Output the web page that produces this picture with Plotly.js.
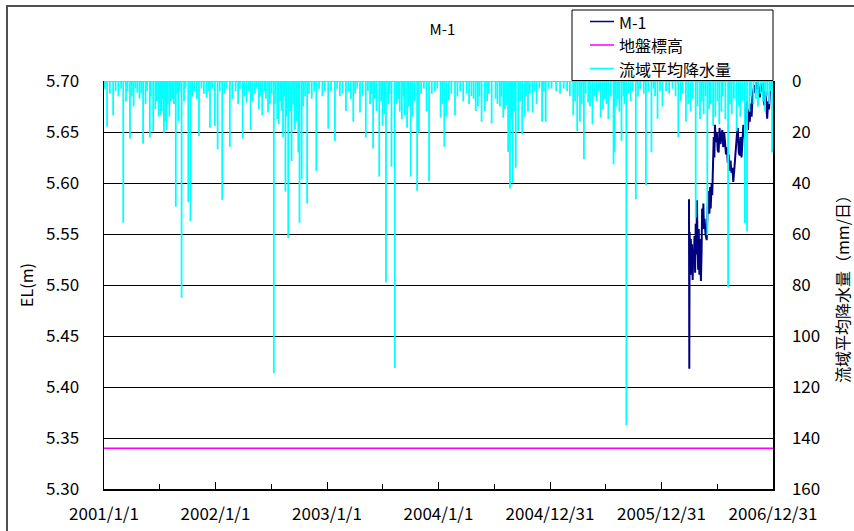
<!DOCTYPE html>
<html>
<head>
<meta charset="utf-8">
<script src="https://cdn.plot.ly/plotly-3.0.1.min.js"></script>
<style>
html,body{margin:0;padding:0;background:#fff;}
#wrap{position:relative;width:854px;height:531px;overflow:hidden;}
#chart{width:854px;height:531px;}
#frameL{position:absolute;left:6px;top:5px;width:2px;height:540px;background:#505050;}
#frameT{position:absolute;left:6px;top:5px;width:860px;height:2px;background:#505050;}
</style>
</head>
<body>
<div id="wrap"><div id="chart"></div><div id="frameL"></div><div id="frameT"></div></div>
<script>
// ---- axis ticks ----
const xRange = ['2001-01-01', '2006-12-31'];
const xTickDates = ['2001-01-01','2002-01-01','2003-01-01','2004-01-01','2004-12-31','2005-12-31','2006-12-31'];
const xTickLabels = ['2001/1/1','2002/1/1','2003/1/1','2004/1/1','2004/12/31','2005/12/31','2006/12/31'];
const levelTicks = [5.30,5.35,5.40,5.45,5.50,5.55,5.60,5.65,5.70];
const rainTicks = [0,20,40,60,80,100,120,140,160];

// ---- series names / colours ----
const seriesNames = ['M-1', '地盤標高', '流域平均降水量'];
const seriesColors = ['#000080', '#FF00FF', '#00FFFF'];

// ---- 地盤標高 (ground elevation) ----
const groundDates = ['2001-01-01', '2006-12-31'];
const groundLevel = [5.34, 5.34];

// ---- M-1 water level (m) ----
const m1Dates = [
'2006-03-31','2006-04-01','2006-04-02','2006-04-04','2006-04-06','2006-04-08','2006-04-10','2006-04-12','2006-04-14','2006-04-16',
'2006-04-18','2006-04-20','2006-04-22','2006-04-24','2006-04-26','2006-04-28','2006-04-30','2006-05-02','2006-05-04','2006-05-06',
'2006-05-09','2006-05-11','2006-05-13','2006-05-15','2006-05-17','2006-05-19','2006-05-21','2006-05-24','2006-05-28','2006-05-31',
'2006-06-03','2006-06-06','2006-06-08','2006-06-10','2006-06-13','2006-06-15','2006-06-17','2006-06-20','2006-06-22','2006-06-24',
'2006-06-27','2006-06-30','2006-07-03','2006-07-06','2006-07-09','2006-07-12','2006-07-15','2006-07-18','2006-07-21','2006-07-24',
'2006-07-27','2006-07-30','2006-08-02','2006-08-05','2006-08-08','2006-08-11','2006-08-14','2006-08-17','2006-08-20','2006-08-23',
'2006-08-26','2006-08-29','2006-09-01','2006-09-04','2006-09-07','2006-09-10','2006-09-13','2006-09-16','2006-09-19','2006-09-22',
'2006-09-25','2006-09-28','2006-10-01','2006-10-04','2006-10-07','2006-10-10','2006-10-13','2006-10-16','2006-10-19','2006-10-22',
'2006-10-25','2006-10-28','2006-10-31','2006-11-03','2006-11-06','2006-11-09','2006-11-12','2006-11-15','2006-11-18','2006-11-21',
'2006-11-24','2006-11-27','2006-11-30','2006-12-03','2006-12-06','2006-12-09','2006-12-12','2006-12-15','2006-12-18','2006-12-21',
'2006-12-24','2006-12-27','2006-12-30'];
const m1Level = [
5.584,5.418,5.552,5.530,5.545,5.510,5.540,5.505,5.535,5.520,
5.548,5.512,5.560,5.530,5.583,5.540,5.515,5.555,5.510,5.545,
5.504,5.530,5.575,5.555,5.580,5.555,5.565,5.550,5.544,5.575,
5.592,5.570,5.596,5.575,5.600,5.588,5.605,5.645,5.625,5.657,
5.640,5.650,5.632,5.630,5.654,5.638,5.645,5.652,5.635,5.650,
5.640,5.628,5.635,5.620,5.628,5.612,5.622,5.610,5.615,5.601,
5.612,5.625,5.640,5.648,5.654,5.630,5.627,5.645,5.625,5.640,
5.657,5.645,5.662,5.672,5.680,5.652,5.672,5.660,5.678,5.665,
5.686,5.692,5.696,5.688,5.700,5.692,5.698,5.688,5.684,5.695,
5.690,5.698,5.684,5.676,5.690,5.670,5.663,5.680,5.672,5.690,
5.700,5.695,5.700];

// ---- 流域平均降水量 (mm/day), days with rain ----
const rainDates = [
// 2001
'2001-01-04','2001-01-11','2001-01-20','2001-01-31','2001-02-08','2001-02-17','2001-02-26','2001-03-05','2001-03-14','2001-03-19',
'2001-03-27','2001-04-02','2001-04-08','2001-04-14','2001-04-20','2001-04-27','2001-05-03','2001-05-09','2001-05-17','2001-05-22',
'2001-05-31','2001-06-03','2001-06-11','2001-06-18','2001-06-23','2001-06-29','2001-07-01','2001-07-05','2001-07-09','2001-07-12',
'2001-07-16','2001-07-20','2001-07-25','2001-07-29','2001-08-03','2001-08-08','2001-08-13','2001-08-15','2001-08-18','2001-08-24',
'2001-08-28','2001-09-01','2001-09-06','2001-09-12','2001-09-20','2001-09-25','2001-10-04','2001-10-11','2001-10-17','2001-10-24',
'2001-11-01','2001-11-08','2001-11-16','2001-11-24','2001-12-03','2001-12-09','2001-12-14','2001-12-21','2001-12-30',
// 2002
'2002-01-08','2002-01-15','2002-01-23','2002-01-30','2002-02-06','2002-02-17','2002-02-25','2002-03-08','2002-03-16','2002-03-22',
'2002-03-31','2002-04-05','2002-04-13','2002-04-20','2002-04-26','2002-05-02','2002-05-10','2002-05-16','2002-05-23','2002-05-29',
'2002-06-03','2002-06-10','2002-06-15','2002-06-22','2002-06-28','2002-07-04','2002-07-11','2002-07-16','2002-07-22','2002-07-27',
'2002-08-01','2002-08-05','2002-08-10','2002-08-14','2002-08-18','2002-08-22','2002-08-27','2002-09-02','2002-09-07','2002-09-12',
'2002-09-18','2002-09-24','2002-09-29','2002-10-03','2002-10-10','2002-10-15','2002-10-21','2002-10-28','2002-11-03','2002-11-12',
'2002-11-20','2002-11-27','2002-12-06','2002-12-17','2002-12-25',
// 2003
'2003-01-05','2003-01-14','2003-01-27','2003-02-03','2003-02-12','2003-02-21','2003-03-04','2003-03-12','2003-03-20','2003-03-28',
'2003-04-03','2003-04-10','2003-04-19','2003-04-27','2003-05-08','2003-05-15','2003-05-22','2003-05-27','2003-06-01','2003-06-06',
'2003-06-12','2003-06-21','2003-06-27','2003-07-02','2003-07-07','2003-07-13','2003-07-20','2003-07-25','2003-07-31','2003-08-11',
'2003-08-17','2003-08-22','2003-08-27','2003-09-03','2003-09-08','2003-09-13','2003-09-20','2003-09-26','2003-10-02','2003-10-08',
'2003-10-15','2003-10-23','2003-10-29','2003-11-05','2003-11-14','2003-11-23','2003-12-01','2003-12-10','2003-12-20','2003-12-28',
// 2004
'2004-01-08','2004-01-14','2004-01-20','2004-01-27','2004-02-04','2004-02-12','2004-02-24','2004-03-03','2004-03-12','2004-03-22',
'2004-04-02','2004-04-10','2004-04-18','2004-04-25','2004-05-02','2004-05-09','2004-05-14','2004-05-21','2004-06-01','2004-06-08',
'2004-06-14','2004-06-23','2004-07-06','2004-07-12','2004-07-20','2004-07-25','2004-07-31','2004-08-05','2004-08-11','2004-08-16',
'2004-08-22','2004-08-26','2004-08-31','2004-09-05','2004-09-10','2004-09-18','2004-09-24','2004-10-01','2004-10-09','2004-10-14',
'2004-10-20','2004-10-26','2004-11-04','2004-11-10','2004-11-17','2004-11-26','2004-12-05','2004-12-11','2004-12-17','2004-12-26',
// 2005
'2005-01-05','2005-01-20','2005-02-02','2005-02-14','2005-02-25','2005-03-06','2005-03-17','2005-03-23','2005-03-30','2005-04-01',
'2005-04-08','2005-04-14','2005-04-21','2005-04-27','2005-05-05','2005-05-11','2005-05-19','2005-05-26','2005-06-02','2005-06-09',
'2005-06-15','2005-06-22','2005-06-28','2005-07-04','2005-07-10','2005-07-18','2005-07-27','2005-07-31','2005-08-04','2005-08-10',
'2005-08-15','2005-08-22','2005-08-28','2005-09-01','2005-09-07','2005-09-14','2005-09-21','2005-09-28','2005-10-08','2005-10-15',
'2005-10-22','2005-11-03','2005-11-10','2005-11-18','2005-11-28','2005-12-05','2005-12-10','2005-12-18','2005-12-26',
// 2006
'2006-01-03','2006-01-15','2006-01-25','2006-02-05','2006-02-15','2006-02-24','2006-03-04','2006-03-10','2006-03-21','2006-03-28',
'2006-04-05','2006-04-12','2006-04-22','2006-04-28','2006-05-06','2006-05-12','2006-05-18','2006-05-24','2006-05-30','2006-06-05',
'2006-06-10','2006-06-18','2006-06-25','2006-07-02','2006-07-08','2006-07-15','2006-07-20','2006-07-28','2006-08-06','2006-08-12',
'2006-08-18','2006-08-25','2006-09-03','2006-09-10','2006-09-15','2006-09-22','2006-09-30','2006-10-07','2006-10-15','2006-10-20',
'2006-10-28','2006-11-05','2006-11-12','2006-11-20','2006-11-28','2006-12-05','2006-12-12','2006-12-19','2006-12-24','2006-12-28'];
const rainMM = [
// 2001
3,17.9,5,13.5,4,6,3,55.6,8,4,
22.6,6,10,3,4.6,7,5,24.6,9,4,
22.2,6,19.6,11,8,14,9,13.5,12,7,
20.3,16,19.2,9,14,8,7,6,9,49.3,
5,15.7,4,85,8,3,47.5,54.9,6,4,
7,21.6,3,5,6.5,4,18.3,3,17.6,
// 2002
26.8,4,46.7,5,3,25.8,7,4,9,3,
22.6,6,8.5,4,19.2,8,5,3,11,6,
13.5,4,7,12.4,9,5,114.5,9,15,17,
8,11.8,22,6,43.4,14,61.5,12,31.4,9,
19,16,28,55.6,38.6,10,6,48,5,7,
4,35.3,3,6,4,
// 2003
18.7,4,23.5,3,6,5,11.8,4,7,16,
5,3,12.4,6,22.2,4,9,5,26.5,7,
11.8,37.5,8,17.6,13,79,9,5,33.6,112.5,
9,7,12,15,6,13.5,18.3,10,37.5,14,
8,43.1,20.3,5,3,12,39.2,5,4,3,
// 2004
14.4,9,25.8,14,7.5,5,13.5,6,4,8,
5,9,6,7,11.8,10,6,16,11.8,8,
5,16.7,7,9,10,6,14.4,11,9.4,27.8,
42.2,15,39.9,12,34,19.6,8,20.9,14,6,
12,5,12.4,4,9,3,16,4,16,3,
// 2005
3,4,5,3,4,6,13.5,8,19.6,6,
16,9,30.7,5,8.4,10,17,6,8,4,
14.4,11,7,9,15,6,32.7,27.8,10,7,
12,23.5,6,9,135,5,8,4,46.4,6,
3,5,40.9,4,28,3,6,14.8,4,
// 2006
10,4,5,3,6,22,8,5,16,9,
12,7,53.6,10,15,8,13,6,60.4,11,
9,17.6,14,8,17,12,6,15,81,9,
13,7,19.6,10,14,8,55.8,59,12,6,
9,7,10,5,8,12,6,9,4,28];

// ---- build line-segment table for rain (baseline + one vertical segment per rainy day) ----
const rainX = [xRange[0], xRange[1], null];
const rainY = [0, 0, null];
for (let i = 0; i < rainDates.length; i++) {
  rainX.push(rainDates[i], rainDates[i], null);
  rainY.push(0, rainMM[i], null);
}

const FONT = '"Noto Sans CJK JP", "Noto Sans", sans-serif';

const traces = [
  {x: m1Dates, y: m1Level, name: seriesNames[0], type: 'scatter', mode: 'lines',
   line: {color: seriesColors[0], width: 2}, yaxis: 'y'},
  {x: groundDates, y: groundLevel, name: seriesNames[1], type: 'scatter', mode: 'lines',
   line: {color: seriesColors[1], width: 1.5}, yaxis: 'y'},
  {x: rainX, y: rainY, name: seriesNames[2], type: 'scatter', mode: 'lines',
   line: {color: seriesColors[2], width: 1.8}, connectgaps: false, yaxis: 'y2'}
];

// ---- legend box (drawn in paper coordinates, like the original chart's framed legend) ----
const PL = 104, PW = 669, PB = 489, PH = 408;           // plot area in px
const px = v => (v - PL) / PW, py = v => (PB - v) / PH;  // px -> paper
const legRowsY = [21.5, 45, 68.5];
const shapes = [{type: 'rect', xref: 'paper', yref: 'paper', x0: px(572), x1: px(773), y0: py(80.5), y1: py(10),
                 line: {color: '#000', width: 1}, fillcolor: '#ffffff', layer: 'above'}];
const annotations = [];
seriesNames.forEach((nm, i) => {
  shapes.push({type: 'line', xref: 'paper', yref: 'paper', x0: px(590), x1: px(614), y0: py(legRowsY[i]), y1: py(legRowsY[i]),
               line: {color: seriesColors[i], width: 1.5}, layer: 'above'});
  annotations.push({xref: 'paper', yref: 'paper', x: px(618), y: py(legRowsY[i]), xanchor: 'left', yanchor: 'middle',
                    text: nm, showarrow: false, borderpad: 0, font: {family: FONT, size: 16, color: '#000'}});
});

const layout = {
  width: 854, height: 531,
  margin: {l: 104, r: 81, t: 81, b: 42},
  paper_bgcolor: '#ffffff', plot_bgcolor: '#ffffff',
  font: {family: FONT, size: 17, color: '#000'},
  showlegend: false,
  shapes: shapes, annotations: annotations,
  title: {text: 'M-1', x: 432/854, xref: 'paper', xanchor: 'center', y: 1 - 30/531, yanchor: 'middle',
          font: {family: FONT, size: 15, color: '#000'}},
  xaxis: {type: 'date', range: xRange, tickmode: 'array', tickvals: xTickDates, ticktext: xTickLabels,
          ticks: 'inside', ticklen: 7, tickwidth: 1, tickcolor: '#000',
          minor: {dtick: 182.5*86400000, tick0: '2001-01-01', ticks: 'inside', ticklen: 5, tickcolor: '#000', showgrid: false},
          showline: true, linecolor: '#000', linewidth: 1.5, showgrid: false, zeroline: false,
          ticklabelstandoff: 9, tickfont: {family: FONT, size: 17}},
  yaxis: {range: [5.30, 5.70], tickmode: 'array', tickvals: levelTicks, tickformat: '.2f',
          showgrid: true, gridcolor: '#000', gridwidth: 1, showline: true, linecolor: '#000', linewidth: 1.5,
          ticks: '', zeroline: false, ticklabelstandoff: 20, tickfont: {family: FONT, size: 17},
          title: {text: 'EL(m)', standoff: 8, font: {family: FONT, size: 16}}},
  yaxis2: {range: [160, 0], overlaying: 'y', side: 'right', tickmode: 'array', tickvals: rainTicks,
           showgrid: false, showline: true, linecolor: '#000', linewidth: 1.5, ticks: '', zeroline: false,
           ticklabelstandoff: 14, tickfont: {family: FONT, size: 17},
           title: {text: '流域平均降水量（mm/日）', standoff: 20, font: {family: FONT, size: 16}}}
};

Plotly.newPlot('chart', traces, layout, {staticPlot: true, displayModeBar: false});
</script>
</body>
</html>
